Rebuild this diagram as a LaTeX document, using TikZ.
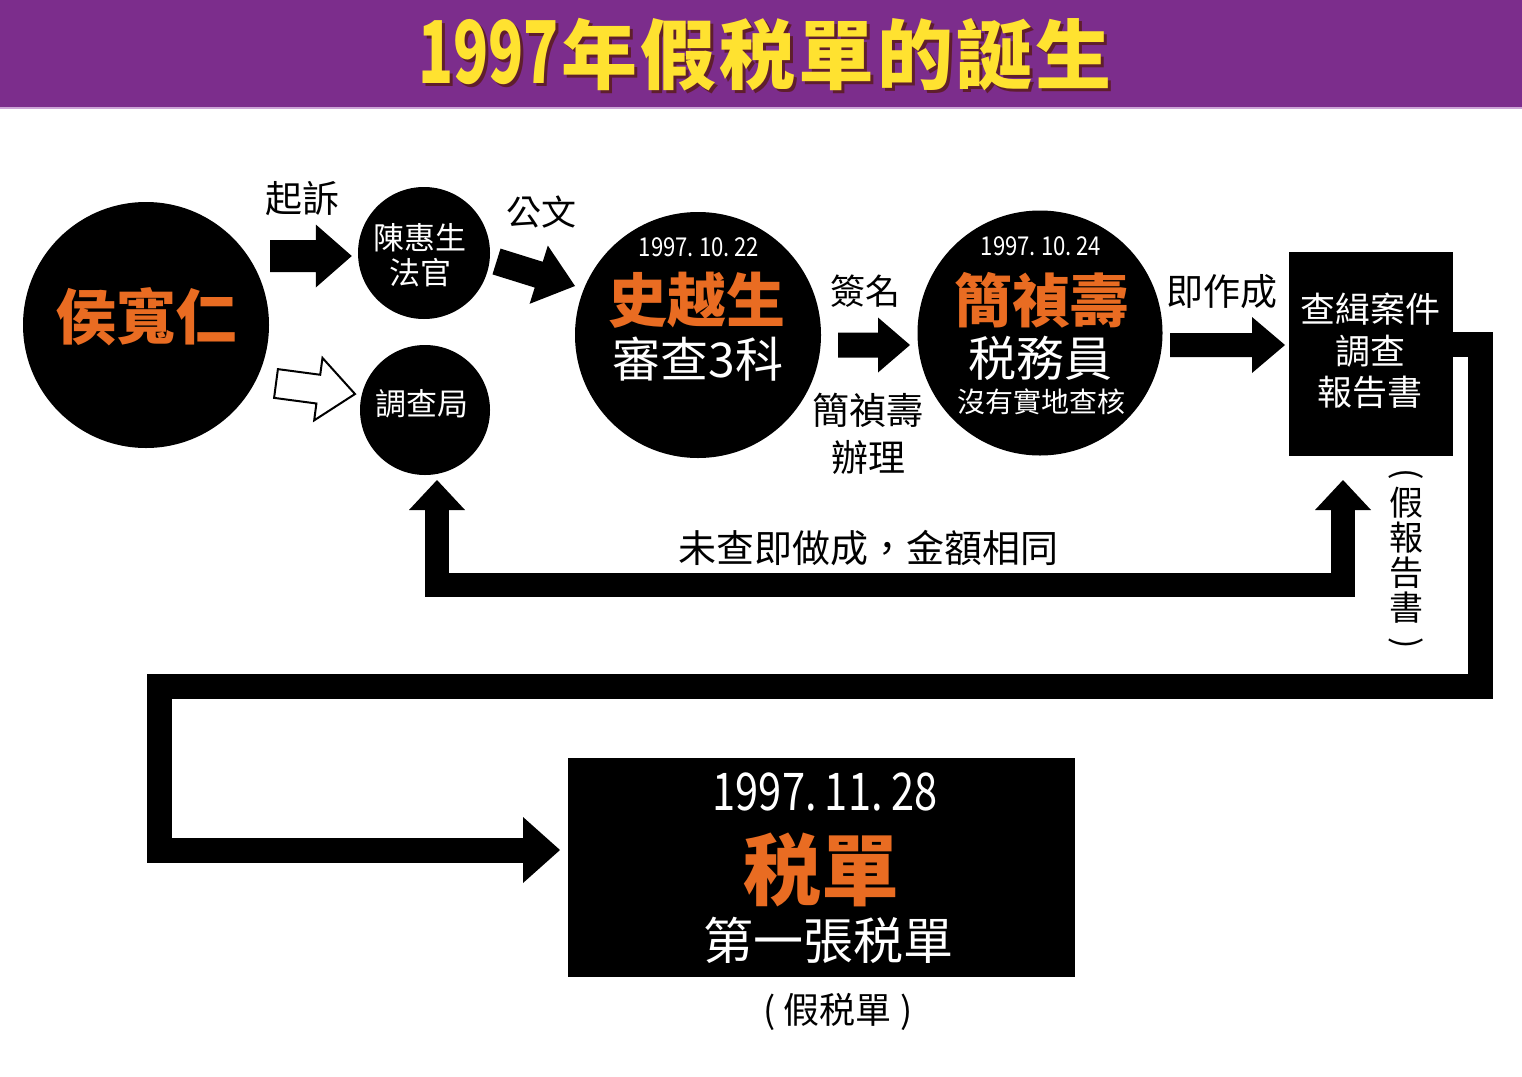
\documentclass[tikz,border=0pt]{standalone}
\usepackage{fontspec}
\usepackage{graphicx}
\setmainfont{Noto Sans CJK TC}
\usetikzlibrary{calc,arrows.meta}
\definecolor{titlepurple}{RGB}{124,45,140}
\definecolor{titlelavender}{RGB}{205,165,215}
\definecolor{titleyellow}{RGB}{255,226,48}
\definecolor{titleshadow}{RGB}{95,30,45}
\definecolor{nameorange}{RGB}{233,108,34}
\newcommand\tgap{\hspace{3pt}}
\newcommand\mytitletext{\scalebox{0.76}[1.14]{1997}\hspace{3pt}年\tgap 假\tgap 税\tgap 單\tgap 的\tgap 誕\tgap 生}
% block arrow: [style]{from}{to}{shaft half width}{head half width}{head length}
\newcommand\blockarrow[6][]{%
  \coordinate (bahead) at ($(#3)!#6!(#2)$);
  \path[fill=black,#1] ($(#2)!#4!90:(#3)$) -- ($(bahead)!#4!90:(#3)$) -- ($(bahead)!#5!90:(#3)$) -- (#3)
    -- ($(bahead)!#5!-90:(#3)$) -- ($(bahead)!#4!-90:(#3)$) -- ($(#2)!#4!-90:(#3)$) -- cycle;}
\begin{document}
\begin{tikzpicture}[x=1pt,y=-1pt,
  lbl/.style={inner sep=0pt, text=black, font=\fontsize{#1}{#1}\selectfont},
  wlbl/.style={inner sep=0pt, text=white, font=\fontsize{#1}{#1}\selectfont},
  olbl/.style={inner sep=0pt, text=nameorange, font=\fontsize{#1}{#1}\selectfont\bfseries},
  disc/.style={circle, fill=black, inner sep=0pt, minimum size=#1},
  fatline/.style={line width=#1, line join=miter, draw=black},
]
\useasboundingbox (0,0) rectangle (1522,1076);
\fill[white] (0,0) rectangle (1522,1076);
% title bar
\fill[titlepurple] (0,0) rectangle (1522,107);
\fill[titlelavender] (0,107) rectangle (1522,109);
\node[inner sep=0pt, text=titleshadow, font=\fontsize{76}{76}\selectfont\bfseries] (titleS) at (768,58) {\mytitletext};
\node[inner sep=0pt, text=titleyellow, font=\fontsize{76}{76}\selectfont\bfseries] (title) at (765,55) {\mytitletext};

% circles
\node[disc=246pt] (hou) at (146,325) {};
\node[olbl=60] (houT) at (146,317) {侯寬仁};

\node[disc=132pt] (chen) at (424,253) {};
\node[wlbl=31] (chenT1) at (420,237.5) {陳惠生};
\node[wlbl=31] (chenT2) at (420,273) {法官};

\node[disc=130pt] (diao) at (425,410) {};
\node[wlbl=31] (diaoT) at (422,404) {調查局};

\node[disc=246pt] (shi) at (698,335) {};
\node[wlbl=26] (shiD) at (699,247) {\scalebox{0.85}[1]{1997.\ 10.\ 22}};
\node[olbl=59] (shiN) at (697,300) {史越生};
\node[wlbl=48] (shiR) at (698,359) {審查3科};

\node[disc=245pt] (jian) at (1040,333) {};
\node[wlbl=26] (jianD) at (1041,246) {\scalebox{0.85}[1]{1997.\ 10.\ 24}};
\node[olbl=58] (jianN) at (1041,300) {簡禎壽};
\node[wlbl=48] (jianR) at (1040,358) {税務員};
\node[wlbl=28] (jianS) at (1041,402) {沒有實地查核};

% report box
\node[fill=black, inner sep=0pt, minimum width=164pt, minimum height=204pt] (box) at (1371,354) {};
\node[wlbl=35] (boxT1) at (1370,309) {查緝案件};
\node[wlbl=35] (boxT2) at (1370,351) {調查};
\node[wlbl=35] (boxT3) at (1370,392) {報告書};

% tax bill box
\node[fill=black, inner sep=0pt, minimum width=507pt, minimum height=219pt] (tax) at (821.5,867.5) {};
\node[wlbl=52] (taxD) at (825,792) {\scalebox{0.8}[1]{1997.\hspace{0.2em}11.\hspace{0.2em}28}};
\node[olbl=78] (taxN) at (821,870) {税單};
\node[wlbl=50] (taxR) at (828,940) {第一張税單};
\node[lbl=36] (taxF) at (838,1012) {( 假税單 )};

% labels
\node[lbl=37] (lQisu) at (302,199) {起訴};
\node[lbl=35] (lGongwen) at (541,212) {公文};
\node[lbl=35] (lQianming) at (865,291) {簽名};
\node[lbl=37] (lJian1) at (868,410) {簡禎壽};
\node[lbl=37] (lJian2) at (868,457) {辦理};
\node[lbl=37] (lJizuo) at (1222,292) {即作成};
\node[lbl=38] (lWeicha) at (868,548) {未查即做成，金額相同};
\node[inner sep=0pt, text=black, font=\fontsize{34}{35}\selectfont, align=center] (lFake) at (1406,561)
  {\rotatebox[origin=c]{-90}{(}\\[-4pt]假\\報\\告\\書\\[-2pt]\rotatebox[origin=c]{-90}{)}};

% block arrows
\coordinate (a1s) at (270,256);
\coordinate (a1e) at ($(chen.west)+(-6,3)$);
\blockarrow{a1s}{a1e}{16pt}{31.5pt}{36pt}
\coordinate (a2s) at (276,383.5);
\coordinate (a2e) at (355,394);
\blockarrow[fill=white,draw=black,line width=2pt,line join=miter]{a2s}{a2e}{14.5pt}{31.5pt}{37pt}
\coordinate (a3s) at (496.5,261.5);
\coordinate (a3e) at (575,286);
\blockarrow{a3s}{a3e}{13.5pt}{30.5pt}{38pt}
\coordinate (a4s) at (838,345);
\coordinate (a4e) at (910,345);
\blockarrow{a4s}{a4e}{12.5pt}{27.5pt}{32pt}
\coordinate (a5s) at (1170,345);
\coordinate (a5e) at (1285,345);
\blockarrow{a5s}{a5e}{12pt}{28pt}{33pt}

% feedback path
\coordinate (fbL) at (437,480);
\coordinate (fbM) at (890,585);
\coordinate (fbR) at (1343,480);
\draw[fatline=24pt, {Triangle[length=30pt,width=56pt,line width=0pt]}-{Triangle[length=30pt,width=56pt,line width=0pt]}] (fbL) |- (fbM) -| (fbR);

% report to tax bill
\coordinate (outS) at (1450,344.5);
\coordinate (taxIn) at (560,850);
\draw[fatline=25pt, -{Triangle[length=37pt,width=66pt,line width=0pt]}] (outS) -| (1480,686) -| (159,850) -- (taxIn);
\end{tikzpicture}
\end{document}
